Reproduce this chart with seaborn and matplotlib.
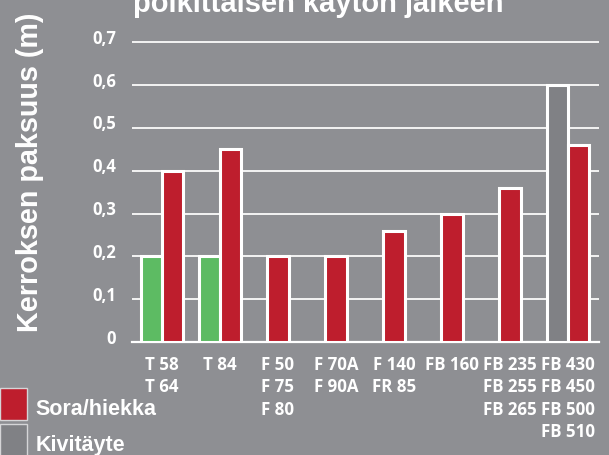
import matplotlib
matplotlib.use("Agg")
import matplotlib.pyplot as plt
import matplotlib.transforms as mtransforms
from matplotlib.patches import Patch
from matplotlib.font_manager import FontProperties
import seaborn as sns
import pandas as pd

# ---------------- data ----------------
categories = ["T 58\nT 64", "T 84", "F 50\nF 75\nF 80", "F 70A\nF 90A",
              "F 140\nFR 85", "FB 160", "FB 235\nFB 255\nFB 265",
              "FB 430\nFB 450\nFB 500\nFB 510"]
pair_categories = ["T 58\nT 64", "T 84", "FB 430\nFB 450\nFB 500\nFB 510"]
left_values = [0.2, 0.2, 0.6]
left_materials = ["Murske", "Murske", "Kivitäyte"]
right_values = [0.4, 0.45, 0.46]
single_categories = ["F 50\nF 75\nF 80", "F 70A\nF 90A", "F 140\nFR 85",
                     "FB 160", "FB 235\nFB 255\nFB 265"]
single_values = [0.2, 0.2, 0.26, 0.30, 0.36]
yticks = [0, 0.1, 0.2, 0.3, 0.4, 0.5, 0.6, 0.7]
ytick_labels = ["0", "0,1", "0,2", "0,3", "0,4", "0,5", "0,6", "0,7"]
legend_labels = ["Sora/hiekka", "Kivitäyte"]
title = "poikittaisen käytön jälkeen"
ylabel = "Kerroksen paksuus (m)"

# ---------------- style ----------------
BG = "#8e8f93"
RED = "#be1e2d"
GREEN = "#5dbb63"
GREY = "#808185"
material_colors = {"Murske": GREEN, "Kivitäyte": GREY, "Sora/hiekka": RED}

W, H = 609, 455
fig = plt.figure(figsize=(W / 100, H / 100), dpi=100, facecolor=BG)
ax = fig.add_axes([132 / W, 113 / H, 467 / W, 312.5 / H])
ax.set_facecolor(BG)
ax.set_axisbelow(True)

pair_df = pd.DataFrame({
    "cat": pair_categories * 2,
    "value": left_values + right_values,
    "slot": ["L"] * len(pair_categories) + ["R"] * len(pair_categories),
})
n0 = len(ax.containers)
sns.barplot(data=pair_df, x="cat", y="value", hue="slot", hue_order=["L", "R"],
            order=categories, palette={"L": GREEN, "R": RED}, saturation=1,
            width=0.74, dodge=True, edgecolor="white", linewidth=2.2,
            legend=False, errorbar=None, ax=ax, zorder=3)
for bar, mat in zip(ax.containers[n0], left_materials):
    bar.set_facecolor(material_colors[mat])

single_df = pd.DataFrame({"cat": single_categories, "value": single_values})
sns.barplot(data=single_df, x="cat", y="value", order=categories, color=RED,
            saturation=1, width=0.37, edgecolor="white", linewidth=2.2,
            errorbar=None, ax=ax, zorder=3)

ax.set_xlim(-0.517, 7.534)
ax.set_ylim(0, 0.73)
ax.set_yticks(yticks)
ax.set_yticklabels(ytick_labels)
ax.yaxis.grid(True, color="white", linewidth=1.25)
ax.xaxis.grid(False)
for s in ["top", "right", "left"]:
    ax.spines[s].set_visible(False)
ax.spines["bottom"].set_color("white")
ax.spines["bottom"].set_linewidth(1.6)
ax.set_xlabel("")

tick_font = FontProperties(family="Open Sans", weight="bold", size=12)
xtick_font = FontProperties(family="Open Sans", weight="bold", size=12.2)
ax.tick_params(axis="both", length=0, colors="white")
ax.tick_params(axis="y", pad=11.5)
ax.tick_params(axis="x", pad=9.8)
off = mtransforms.ScaledTranslation(0, 0.055, fig.dpi_scale_trans)
for lbl in ax.get_yticklabels():
    lbl.set_fontproperties(tick_font)
    lbl.set_color("white")
    lbl.set_transform(lbl.get_transform() + off)
for lbl in ax.get_xticklabels():
    lbl.set_fontproperties(xtick_font)
    lbl.set_color("white")
    lbl.set_linespacing(1.33)

ax.set_ylabel(ylabel, color="white", fontfamily="Liberation Sans",
              fontweight="bold", fontsize=20.7)
ax.yaxis.set_label_coords(30 / W, 1 - 172 / H, transform=fig.transFigure)
ax.yaxis.label.set_verticalalignment("center")

fig.text(133 / W, 1 - 12 / H, title, color="white", fontfamily="Liberation Sans",
         fontweight="bold", fontsize=21, ha="left", va="baseline")

handles = [Patch(facecolor=RED, edgecolor="#d5d5d7", linewidth=1, label=legend_labels[0]),
           Patch(facecolor=GREY, edgecolor="#d5d5d7", linewidth=1, label=legend_labels[1])]
leg = fig.legend(handles=handles, loc="upper left", bbox_to_anchor=(0, 1 - 388 / H),
                 frameon=False, borderpad=0, borderaxespad=0, handlelength=1.25,
                 handleheight=1.9, handletextpad=0.4, labelspacing=0.2,
                 prop=FontProperties(family="Liberation Sans", weight="bold", size=15.5),
                 labelcolor="white")
text_off = mtransforms.ScaledTranslation(0, -0.045, fig.dpi_scale_trans)
for t in leg.get_texts():
    t.set_transform(t.get_transform() + text_off)

fig.savefig("out.png", dpi=100, facecolor=BG)
